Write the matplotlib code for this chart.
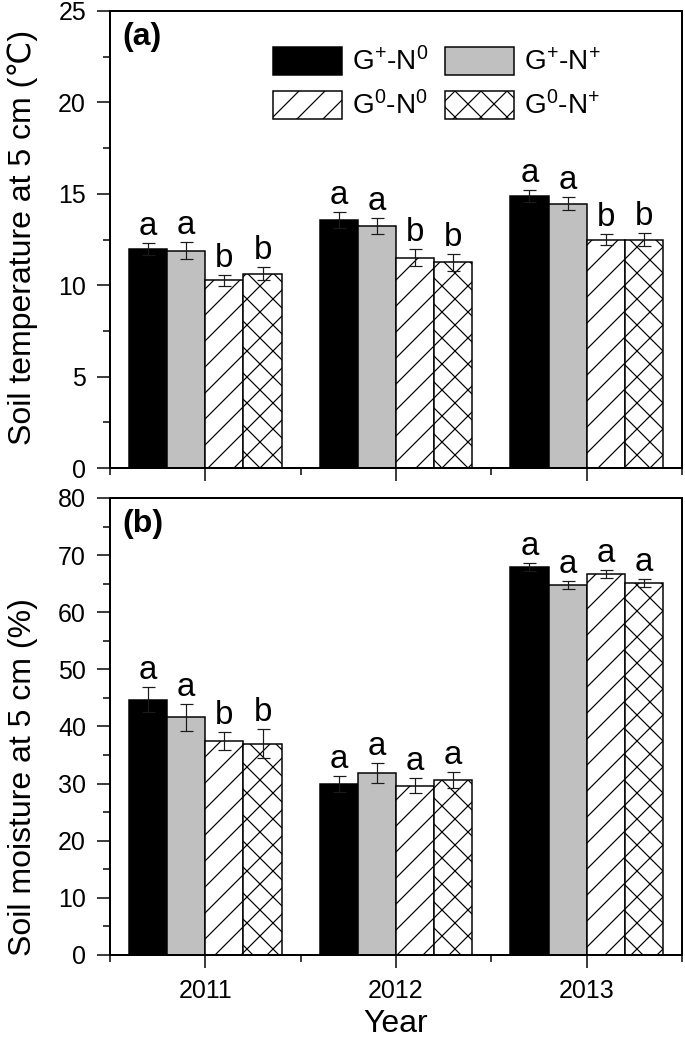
import matplotlib
matplotlib.use("Agg")
import matplotlib.pyplot as plt
from matplotlib.patches import Patch
from matplotlib.ticker import MultipleLocator, FixedLocator
import numpy as np

# ---------------- data ----------------
years = ["2011", "2012", "2013"]
treatments = ["G$^{+}$-N$^{0}$", "G$^{+}$-N$^{+}$", "G$^{0}$-N$^{0}$", "G$^{0}$-N$^{+}$"]

# Soil temperature (deg C), one list per treatment, values per year
temp_gp_n0 = [11.98, 13.57, 14.88]
temp_gp_np = [11.89, 13.24, 14.46]
temp_g0_n0 = [10.27, 11.50, 12.49]
temp_g0_np = [10.63, 11.25, 12.49]
temp_err_gp_n0 = [0.35, 0.42, 0.33]
temp_err_gp_np = [0.45, 0.45, 0.34]
temp_err_g0_n0 = [0.29, 0.47, 0.30]
temp_err_g0_np = [0.36, 0.46, 0.35]
temp_letters = [["a", "a", "a"], ["a", "a", "a"], ["b", "b", "b"], ["b", "b", "b"]]

# Soil moisture (%)
moist_gp_n0 = [44.7, 30.0, 68.0]
moist_gp_np = [41.6, 31.9, 64.7]
moist_g0_n0 = [37.5, 29.6, 66.7]
moist_g0_np = [37.0, 30.65, 65.1]
moist_err_gp_n0 = [2.2, 1.4, 0.7]
moist_err_gp_np = [2.4, 1.75, 0.7]
moist_err_g0_n0 = [1.6, 1.3, 0.67]
moist_err_g0_np = [2.6, 1.45, 0.7]
moist_letters = [["a", "a", "a"], ["a", "a", "a"], ["b", "a", "a"], ["b", "a", "a"]]

temp_means = [temp_gp_n0, temp_gp_np, temp_g0_n0, temp_g0_np]
temp_errs = [temp_err_gp_n0, temp_err_gp_np, temp_err_g0_n0, temp_err_g0_np]
moist_means = [moist_gp_n0, moist_gp_np, moist_g0_n0, moist_g0_np]
moist_errs = [moist_err_gp_n0, moist_err_gp_np, moist_err_g0_n0, moist_err_g0_np]

# ---------------- style ----------------
DPI = 78
W, H = 685, 1042


def pt(px):
    return px * 72.0 / DPI


plt.rcParams["font.family"] = ["Liberation Sans", "DejaVu Sans"]
plt.rcParams["mathtext.fontset"] = "custom"
plt.rcParams["mathtext.rm"] = "Liberation Sans"
plt.rcParams["mathtext.default"] = "regular"
plt.rcParams["hatch.linewidth"] = pt(1.2)

facecolors = ["black", "#c0c0c0", "white", "white"]
hatches = [None, None, "/", "x"]

fig = plt.figure(figsize=(W / DPI, H / DPI), dpi=DPI)
ax_a = fig.add_axes([110 / W, 1 - 468 / H, 572 / W, 457 / H])
ax_b = fig.add_axes([110 / W, 1 - 955 / H, 572 / W, 457 / H])

x = np.arange(1, len(years) + 1)
bw = 0.2


def draw(ax, means, errs, letters, ymax, major, minor):
    for i in range(4):
        pos = x + (i - 1.5) * bw
        ax.bar(pos, means[i], width=bw, color=facecolors[i], edgecolor="black",
               linewidth=pt(1.5), hatch=hatches[i], zorder=2)
        ax.errorbar(pos, means[i], yerr=errs[i], fmt="none", ecolor="#1a1a1a",
                    elinewidth=pt(1.2), capsize=pt(6.5), capthick=pt(1.2), zorder=5)
        for j in range(len(years)):
            ax.annotate(letters[i][j], (pos[j], means[i][j] + errs[i][j]),
                        xytext=(0, pt(8)), textcoords="offset points",
                        ha="center", va="baseline", fontsize=pt(33))
    ax.set_xlim(0.5, 3.5)
    ax.set_ylim(0, ymax)
    ax.yaxis.set_major_locator(MultipleLocator(major))
    ax.yaxis.set_minor_locator(MultipleLocator(minor))
    ax.xaxis.set_major_locator(FixedLocator(list(x)))
    ax.xaxis.set_minor_locator(FixedLocator([0.5, 1.5, 2.5, 3.5]))
    ax.tick_params(which="both", direction="out", width=pt(1.5), top=False, right=False)
    ax.tick_params(which="major", length=pt(13), labelsize=pt(25))
    ax.tick_params(axis="y", which="major", pad=pt(11))
    ax.tick_params(axis="x", which="major", pad=pt(11))
    ax.tick_params(which="minor", length=pt(7))
    for s in ax.spines.values():
        s.set_linewidth(pt(2))


draw(ax_a, temp_means, temp_errs, temp_letters, 25, 5, 2.5)
draw(ax_b, moist_means, moist_errs, moist_letters, 80, 10, 5)

ax_a.set_xticklabels([])
ax_b.set_xticklabels(years)

ax_a.set_ylabel("Soil temperature at 5 cm (\u2103)", fontsize=pt(32))
ax_b.set_ylabel("Soil moisture at 5 cm (%)", fontsize=pt(32))
ax_a.yaxis.set_label_coords((38 - 110) / 572, 0.505)
ax_b.yaxis.set_label_coords((38 - 110) / 572, 0.39)
ax_b.set_xlabel("Year", fontsize=pt(32), labelpad=pt(6))

ax_a.text(0.021, 0.975, "(a)", transform=ax_a.transAxes, ha="left", va="top",
          fontsize=pt(32), fontweight="bold")
ax_b.text(0.021, 0.975, "(b)", transform=ax_b.transAxes, ha="left", va="top",
          fontsize=pt(32), fontweight="bold")

handles = [Patch(facecolor=facecolors[i], edgecolor="black", linewidth=pt(1.5),
                 hatch=hatches[i]) for i in range(4)]
order = [0, 2, 1, 3]
ax_a.legend([handles[k] for k in order], [treatments[k] for k in order],
            ncol=2, frameon=False, fontsize=pt(28),
            loc="upper left", bbox_to_anchor=(273 / W, 1 - 47 / H),
            bbox_transform=fig.transFigure, borderpad=0, borderaxespad=0,
            handlelength=2.46, handleheight=1.18, handletextpad=0.36,
            labelspacing=0.5, columnspacing=0.6)

fig.savefig("out.png", dpi=DPI)
